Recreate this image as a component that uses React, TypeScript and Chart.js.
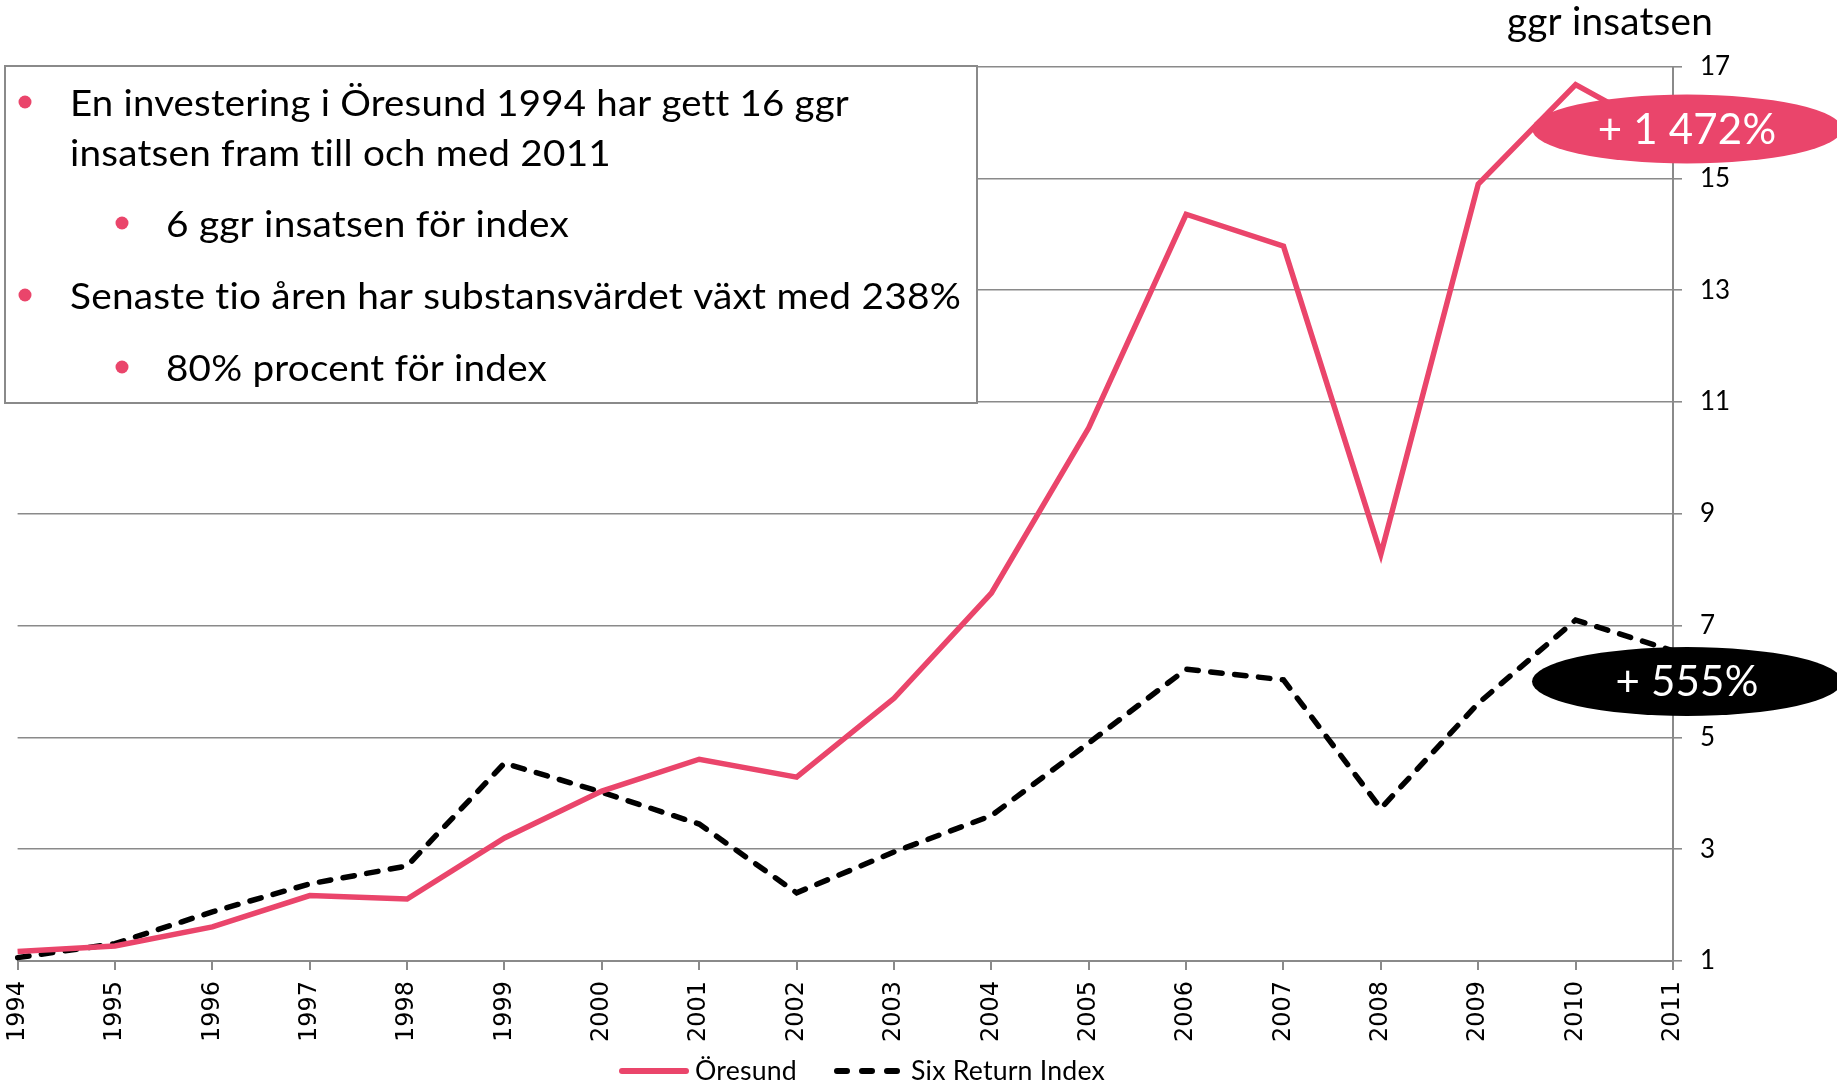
import React, { useEffect, useRef } from "react";
import { Chart, registerables } from "chart.js";

Chart.register(...registerables);

// ---- data ----
const years = ["1994", "1995", "1996", "1997", "1998", "1999", "2000", "2001", "2002", "2003", "2004", "2005", "2006", "2007", "2008", "2009", "2010", "2011"];
const oresund = [1.17, 1.27, 1.61, 2.17, 2.11, 3.2, 4.04, 4.61, 4.29, 5.7, 7.58, 10.54, 14.36, 13.79, 8.28, 14.9, 16.68, 15.72];
const sixReturnIndex = [1.06, 1.31, 1.88, 2.38, 2.7, 4.54, 4.02, 3.45, 2.22, 2.95, 3.6, 4.9, 6.22, 6.03, 3.73, 5.61, 7.1, 6.55];
const seriesNames = ["Öresund", "Six Return Index"];
const yMin = 1;
const yMax = 17;
const yStep = 2;
const unitLabel = "ggr insatsen";
const badgeLabels = ["+ 1 472%", "+ 555%"];
const bulletMain1 = ["En investering i Öresund 1994 har gett 16 ggr", "insatsen fram till och med 2011"];
const bulletSub1 = "6 ggr insatsen för index";
const bulletMain2 = "Senaste tio åren har substansvärdet växt med 238%";
const bulletSub2 = "80% procent för index";

const PINK = "#EA456B";
const GRID = "#8a8a8a";

const overlayPlugin = {
  id: "overlay",
  afterDraw(chart: any) {
    const ctx: any = chart.ctx;
    ctx.save();
    try {
      ctx.letterSpacing = "0.2px";
      ctx.textRendering = "optimizeSpeed";
    } catch (e) {}

    const fitText = (t: string, x: number, y: number, w: number) => {
      const m = ctx.measureText(t).width;
      ctx.save();
      ctx.translate(x, y);
      ctx.scale(w / m, 1);
      ctx.fillText(t, 0, 0);
      ctx.restore();
    };

    // unit label
    ctx.fillStyle = "#000";
    ctx.font = "38px Lato";
    ctx.textAlign = "left";
    ctx.textBaseline = "alphabetic";
    fitText(unitLabel, 1507, 35, 206);

    // text box
    ctx.fillStyle = "#fff";
    ctx.fillRect(5, 66, 972, 337);
    ctx.strokeStyle = "#8a8a8a";
    ctx.lineWidth = 2;
    ctx.strokeRect(5, 66, 972, 337);

    const bullet = (x: number, y: number) => {
      ctx.fillStyle = PINK;
      ctx.beginPath();
      ctx.arc(x, y, 6.5, 0, Math.PI * 2);
      ctx.fill();
    };
    ctx.font = "37px Lato";
    ctx.textAlign = "left";
    ctx.textBaseline = "middle";
    bullet(25, 102);
    ctx.fillStyle = "#000";
    fitText(bulletMain1[0], 70, 104, 779);
    fitText(bulletMain1[1], 70, 154, 541);
    bullet(122, 223);
    ctx.fillStyle = "#000";
    fitText(bulletSub1, 166, 225, 403);
    bullet(25, 295);
    ctx.fillStyle = "#000";
    fitText(bulletMain2, 70, 297, 891);
    bullet(122, 367);
    ctx.fillStyle = "#000";
    fitText(bulletSub2, 166, 369, 381);

    // badges
    const badge = (cx: number, cy: number, color: string, text: string) => {
      ctx.fillStyle = color;
      ctx.beginPath();
      ctx.ellipse(cx, cy, 155, 34.5, 0, 0, Math.PI * 2);
      ctx.fill();
      ctx.fillStyle = "#fff";
      ctx.font = "42px Lato";
      ctx.textAlign = "center";
      ctx.textBaseline = "middle";
      ctx.fillText(text, cx, cy + 1);
    };
    badge(1687, 129, PINK, badgeLabels[0]);
    badge(1687, 681.5, "#000", badgeLabels[1]);

    // legend (from the datasets)
    const ds = chart.data.datasets;
    const legendY = 1071;
    const items = [
      { x0: 622, x1: 686, tx: 695, tw: 102 },
      { x0: 837, x1: 897, tx: 911, tw: 194 },
    ];
    items.forEach((it, i) => {
      const d = ds[i];
      ctx.save();
      ctx.strokeStyle = d.borderColor;
      ctx.lineWidth = 6;
      ctx.lineCap = "round";
      ctx.setLineDash(i === 1 ? [10, 15] : []);
      ctx.beginPath();
      ctx.moveTo(it.x0, legendY);
      ctx.lineTo(it.x1, legendY);
      ctx.stroke();
      ctx.restore();
      ctx.fillStyle = "#000";
      ctx.font = "27px Lato";
      ctx.textAlign = "left";
      ctx.textBaseline = "middle";
      fitText(d.label, it.tx, legendY, it.tw);
    });

    ctx.restore();
  },
};

export default function App() {
  const ref = useRef<HTMLCanvasElement | null>(null);

  useEffect(() => {
    if (!ref.current) return;
    const chart = new Chart(ref.current, {
      type: "line",
      data: {
        labels: years,
        datasets: [
          {
            label: seriesNames[0],
            data: oresund,
            borderColor: PINK,
            backgroundColor: PINK,
            borderWidth: 5.5,
            pointRadius: 0,
            tension: 0,
            fill: false,
          },
          {
            label: seriesNames[1],
            data: sixReturnIndex,
            borderColor: "#000",
            backgroundColor: "#000",
            borderWidth: 5.5,
            borderDash: [11.5, 12.5],
            borderCapStyle: "round",
            pointRadius: 0,
            tension: 0,
            fill: false,
          },
        ],
      },
      options: {
        responsive: false,
        animation: false,
        devicePixelRatio: 1,
        layout: { padding: { left: 17.6, top: 66.7, right: 0, bottom: 44 } },
        plugins: {
          tooltip: { enabled: false },
          legend: { display: false },
        },
        scales: {
          x: {
            type: "category",
            offset: false,
            grid: {
              drawOnChartArea: false,
              drawTicks: true,
              tickLength: 9,
              color: GRID,
              lineWidth: 2,
            },
            border: { display: true, color: GRID, width: 2 },
            ticks: {
              autoSkip: false,
              minRotation: 90,
              maxRotation: 90,
              padding: 11,
              color: "#000",
              font: { family: "DejaVu Sans", size: 24 },
            },
            afterFit: (s: any) => {
              s.height = 80;
            },
          },
          y: {
            position: "right",
            min: yMin,
            max: yMax,
            grid: { color: GRID, lineWidth: 1.6, tickLength: 9 },
            border: { display: true, color: GRID, width: 2 },
            ticks: {
              stepSize: yStep,
              padding: 18,
              color: "#000",
              font: { family: "Lato", size: 26 },
            },
            afterFit: (s: any) => {
              s.width = 164;
            },
          },
        },
      },
      plugins: [overlayPlugin],
    } as any);
    return () => chart.destroy();
  }, []);

  return (
    <div style={{ position: "fixed", left: 0, top: 0, width: 1837, height: 1085, background: "#fff" }}>
      <canvas ref={ref} width={1837} height={1085} style={{ display: "block" }} />
    </div>
  );
}
